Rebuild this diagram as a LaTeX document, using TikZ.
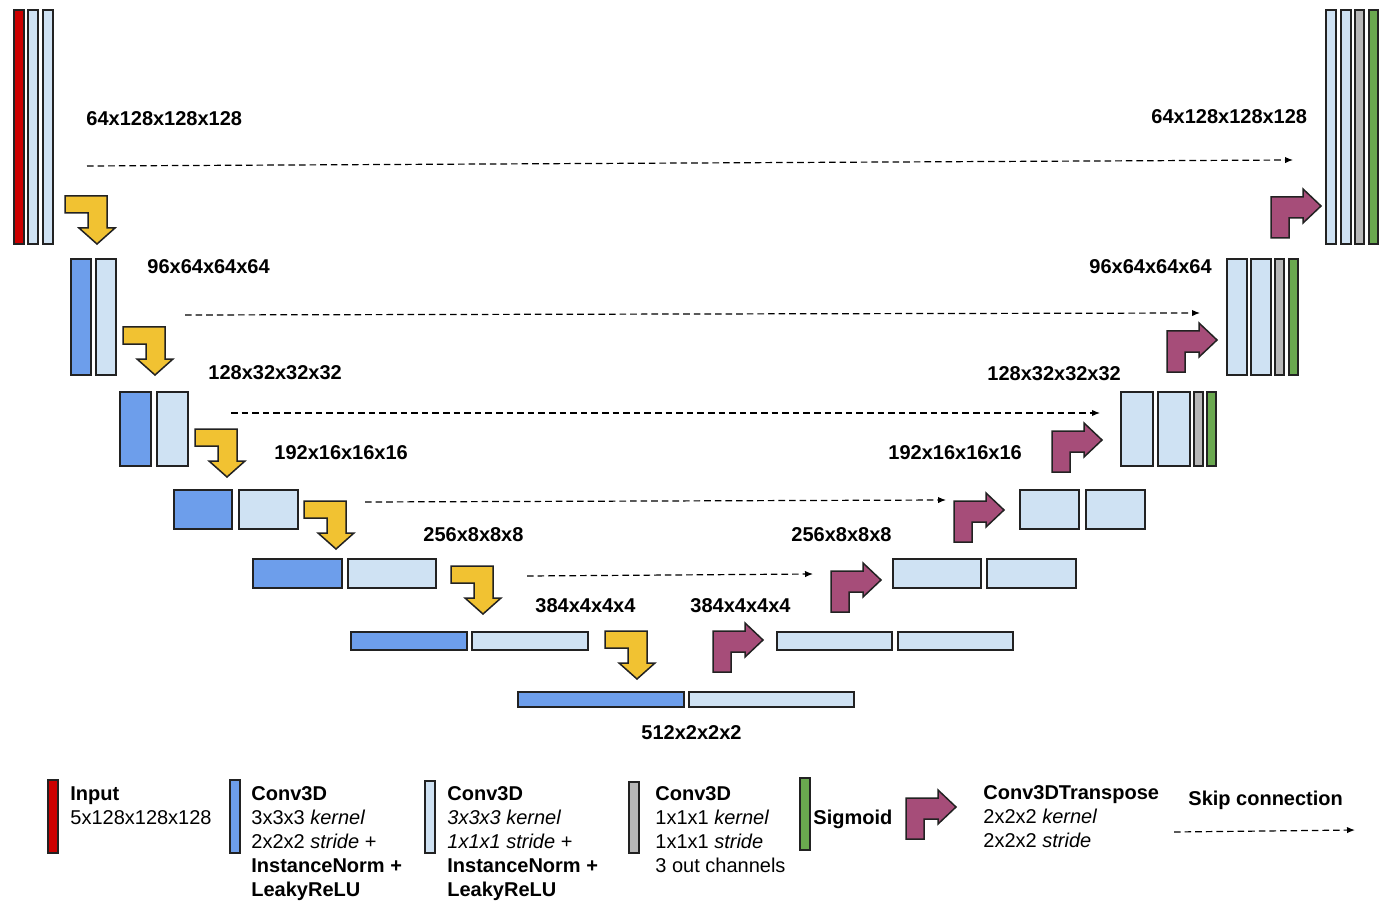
\documentclass[tikz,border=0pt]{standalone}
\usepackage{fontspec}
\setmainfont{Liberation Sans}
\usepackage{xcolor}
\usepackage{tikz}
\usetikzlibrary{arrows.meta}
\definecolor{edge}{HTML}{222222}
\definecolor{inred}{HTML}{CC0000}
\definecolor{cblue}{HTML}{6D9EEB}
\definecolor{lblue}{HTML}{CFE2F3}
\definecolor{ogray}{HTML}{B7B7B7}
\definecolor{sgreen}{HTML}{6AA84F}
\definecolor{ayel}{HTML}{F1C232}
\definecolor{apur}{HTML}{A64D79}
\tikzset{
  blk/.style={draw=edge, line width=0.75pt, inner sep=0pt, outer sep=0pt},
  inp/.style={fill=inred},
  cnv/.style={fill=cblue},
  cnvl/.style={fill=lblue},
  outc/.style={fill=ogray},
  sig/.style={fill=sgreen},
  ylw/.style={draw=edge, fill=ayel, line width=0.75pt, line join=miter},
  prp/.style={draw=edge, fill=apur, line width=0.75pt, line join=miter},
  skip/.style={draw=black, line width=0.6pt, dash pattern=on 3.3pt off 2pt, -{Latex[length=4pt,width=3.2pt]}},
  lab/.style={font=\bfseries\fontsize{10}{12}\selectfont, inner sep=0pt, anchor=west},
  leg/.style={font=\fontsize{10}{12}\selectfont, inner sep=0pt, anchor=north west, align=left},
  dnarr/.pic={\draw[ylw] (0,0) -- (42,0) -- (42,32) -- (50,32) -- (32,48) -- (14,32) -- (23,32) -- (23,17) -- (0,17) -- cycle;},
  uparr/.pic={\draw[prp] (0,49) -- (0,8) -- (32,8) -- (32,0) -- (50,17) -- (32,34) -- (32,29) -- (18,29) -- (18,49) -- cycle;},
}
% name, style, x1, y1, x2, y2 (pixels)
\newcommand{\blk}[6]{\node[blk,#2,minimum width={(#5-#3)*0.5pt},minimum height={(#6-#4)*0.5pt}] (#1) at ({(#3+#5)/2},{(#4+#6)/2}) {};}

\begin{document}
\begin{tikzpicture}[x=0.5pt,y=-0.5pt]
  \useasboundingbox (0,0) rectangle (1390,914);

  \blk{e0a}{inp}{14}{10}{24}{244}
  \blk{e0b}{cnvl}{28}{10}{38}{244}
  \blk{e0c}{cnvl}{43}{10}{53}{244}
  \blk{e1a}{cnv}{71}{259}{91}{375}
  \blk{e1b}{cnvl}{96}{259}{116}{375}
  \blk{e2a}{cnv}{120}{392}{151}{466}
  \blk{e2b}{cnvl}{157}{392}{188}{466}
  \blk{e3a}{cnv}{174}{490}{232}{529}
  \blk{e3b}{cnvl}{239}{490}{298}{529}
  \blk{e4a}{cnv}{253}{559}{342}{588}
  \blk{e4b}{cnvl}{348}{559}{436}{588}
  \blk{e5a}{cnv}{351}{632}{467}{650}
  \blk{e5b}{cnvl}{472}{632}{588}{650}
  \blk{b6a}{cnv}{518}{692}{684}{707}
  \blk{b6b}{cnvl}{689}{692}{854}{707}
  \blk{d5a}{cnvl}{777}{632}{892}{650}
  \blk{d5b}{cnvl}{898}{632}{1013}{650}
  \blk{d4a}{cnvl}{893}{559}{981}{588}
  \blk{d4b}{cnvl}{987}{559}{1076}{588}
  \blk{d3a}{cnvl}{1020}{490}{1079}{529}
  \blk{d3b}{cnvl}{1086}{490}{1145}{529}
  \blk{d2a}{cnvl}{1121}{392}{1153}{466}
  \blk{d2b}{cnvl}{1158}{392}{1190}{466}
  \blk{d2c}{outc}{1194}{392}{1203}{466}
  \blk{d2d}{sig}{1207}{392}{1216}{466}
  \blk{d1a}{cnvl}{1227}{259}{1247}{375}
  \blk{d1b}{cnvl}{1251}{259}{1271}{375}
  \blk{d1c}{outc}{1275}{259}{1284}{375}
  \blk{d1d}{sig}{1289}{259}{1298}{375}
  \blk{d0a}{cnvl}{1326}{10}{1336}{244}
  \blk{d0b}{cnvl}{1341}{10}{1351}{244}
  \blk{d0c}{outc}{1355}{10}{1364}{244}
  \blk{d0d}{sig}{1369}{10}{1378}{244}

  \pic at (65,196) {dnarr};
  \pic at (123,327) {dnarr};
  \pic at (195,429) {dnarr};
  \pic at (304,501) {dnarr};
  \pic at (451,566) {dnarr};
  \pic at (605,631) {dnarr};
  \pic at (713,623) {uparr};
  \pic at (831,563) {uparr};
  \pic at (954,493) {uparr};
  \pic at (1052,423) {uparr};
  \pic at (1167,323) {uparr};
  \pic at (1271,189) {uparr};

  \coordinate (s0a) at (87,166);  \coordinate (s0b) at (1293,160);
  \coordinate (s1a) at (185,315); \coordinate (s1b) at (1200,313);
  \coordinate (s2a) at (231,413); \coordinate (s2b) at (1100,413);
  \coordinate (s3a) at (365,502); \coordinate (s3b) at (946,500);
  \coordinate (s4a) at (527,576); \coordinate (s4b) at (813,574);
  \draw[skip] (s0a) -- (s0b);
  \draw[skip] (s1a) -- (s1b);
  \draw[skip] (s2a) -- (s2b);
  \draw[skip] (s3a) -- (s3b);
  \draw[skip] (s4a) -- (s4b);

  \node[lab] (t0l) at (86,119) {64x128x128x128};
  \node[lab] (t0r) at (1151,117) {64x128x128x128};
  \node[lab] (t1l) at (147,267) {96x64x64x64};
  \node[lab] (t1r) at (1089,267) {96x64x64x64};
  \node[lab] (t2l) at (208,373) {128x32x32x32};
  \node[lab] (t2r) at (987,374) {128x32x32x32};
  \node[lab] (t3l) at (274,453) {192x16x16x16};
  \node[lab] (t3r) at (888,453) {192x16x16x16};
  \node[lab] (t4l) at (423,535) {256x8x8x8};
  \node[lab] (t4r) at (791,535) {256x8x8x8};
  \node[lab] (t5l) at (535,606) {384x4x4x4};
  \node[lab] (t5r) at (690,606) {384x4x4x4};
  \node[lab] (t6) at (641,733) {512x2x2x2};

  \blk{kin}{inp}{48}{780}{58}{853}
  \blk{kcv}{cnv}{230}{780}{240}{853}
  \blk{kcl}{cnvl}{425}{781}{435}{853}
  \blk{kout}{outc}{629}{782}{639}{853}
  \blk{ksig}{sig}{800}{778}{810}{850}
  \pic at (906,790) {uparr};
  \node[leg] (lin) at (70,786) {\textbf{Input}\\5x128x128x128};
  \node[leg] (lcv) at (251,786) {\textbf{Conv3D}\\3x3x3 \textit{kernel}\\2x2x2 \textit{stride} +\\\textbf{InstanceNorm +}\\\textbf{LeakyReLU}};
  \node[leg] (lcl) at (447,786) {\textbf{Conv3D}\\\textit{3x3x3 kernel}\\\textit{1x1x1 stride} +\\\textbf{InstanceNorm +}\\\textbf{LeakyReLU}};
  \node[leg] (lout) at (655,786) {\textbf{Conv3D}\\1x1x1 \textit{kernel}\\1x1x1 \textit{stride}\\3 out channels};
  \node[lab] (lsig) at (813,819) {Sigmoid};
  \node[leg] (lup) at (983,785) {\textbf{Conv3DTranspose}\\2x2x2 \textit{kernel}\\2x2x2 \textit{stride}};
  \node[lab] (lsk) at (1188,800) {Skip connection};
  \coordinate (ska) at (1174,832); \coordinate (skb) at (1355,830);
  \draw[skip] (ska) -- (skb);
\end{tikzpicture}
\end{document}
